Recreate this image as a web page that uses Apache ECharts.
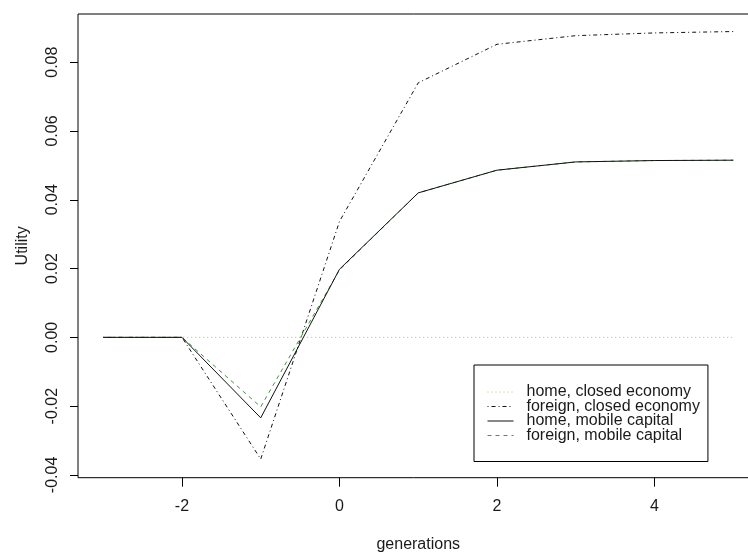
<!DOCTYPE html>
<html>
<head>
<meta charset="utf-8">
<script src="https://cdn.jsdelivr.net/npm/echarts@6/dist/echarts.min.js"></script>
<style>html,body{margin:0;padding:0;background:#fff;overflow:hidden}#c{width:748px;height:553px}</style>
</head>
<body>
<div id="c"></div>
<script>
const generations = [-3, -2, -1, 0, 1, 2, 3, 4, 5];
const homeClosed = [0, 0, 0, 0, 0, 0, 0, 0, 0];
const foreignClosed = [0, 0, -0.0354, 0.0337, 0.0740, 0.0852, 0.0877, 0.0885, 0.0889];
const homeMobile = [0, 0, -0.0234, 0.0198, 0.0420, 0.0486, 0.0510, 0.0514, 0.0515];
const foreignMobile = [0, 0, -0.0202, 0.0196, 0.0420, 0.0486, 0.0510, 0.0514, 0.0515];
const seriesNames = ['home, closed economy', 'foreign, closed economy', 'home, mobile capital', 'foreign, mobile capital'];
const xTicks = [-2, 0, 2, 4];
const yTicks = [-0.04, -0.02, 0, 0.02, 0.04, 0.06, 0.08];

const pts = ys => generations.map((g, i) => [g, ys[i]]);
const font = "'Liberation Sans', Arial, sans-serif";
const txt = '#1a1a1a';

const chart = echarts.init(document.getElementById('c'), null, { renderer: 'canvas' });
chart.setOption({
  animation: false,
  backgroundColor: '#fff',
  textStyle: { fontFamily: font },
  grid: { left: 78, top: 14, right: -10.5, bottom: 75.3, show: true, borderColor: '#000', borderWidth: 1,
          containLabel: false, outerBoundsMode: 'none' },
  xAxis: {
    type: 'value', min: -3.32, max: 5.32,
    name: 'generations', nameLocation: 'middle', nameGap: 59,
    nameTextStyle: { fontSize: 16, color: txt, fontFamily: font },
    axisLine: { show: false, onZero: false },
    splitLine: { show: false },
    axisTick: { show: true, length: 9, lineStyle: { color: '#000' }, customValues: xTicks },
    axisLabel: { customValues: xTicks, fontSize: 16, color: txt, margin: 21, fontFamily: font, formatter: v => String(v) }
  },
  yAxis: {
    type: 'value', min: -0.0408, max: 0.0940,
    name: 'Utility', nameLocation: 'middle', nameGap: 47, nameRotate: 90,
    nameTextStyle: { fontSize: 16, color: txt, fontFamily: font },
    axisLine: { show: false, onZero: false },
    splitLine: { show: false },
    axisTick: { show: true, length: 8, lineStyle: { color: '#000' }, customValues: yTicks },
    axisLabel: { customValues: yTicks, rotate: 90, fontSize: 16, color: txt, margin: 17, fontFamily: font, formatter: v => v.toFixed(2) }
  },
  legend: {
    data: seriesNames,
    orient: 'vertical', left: 474, top: 365,
    padding: [19, 8, 18, 13],
    borderColor: '#000', borderWidth: 1, borderRadius: 0,
    itemWidth: 26, itemHeight: 14, itemGap: -1.5,
    itemStyle: { opacity: 0 },
    lineStyle: { width: 1 },
    textStyle: { fontSize: 16, color: txt, fontFamily: font, padding: [0, 0, 0, 8] }
  },
  series: [
    { name: seriesNames[0], type: 'line', data: pts(homeClosed), symbol: 'none', z: 1,
      lineStyle: { color: '#bdbd5a', width: 1, type: [1, 3] }, itemStyle: { color: '#bdbd5a' } },
    { name: seriesNames[1], type: 'line', data: pts(foreignClosed), symbol: 'none', z: 2,
      lineStyle: { color: '#111', width: 1, type: [1, 3, 4, 3] }, itemStyle: { color: '#111' } },
    { name: seriesNames[2], type: 'line', data: pts(homeMobile), symbol: 'none', z: 4,
      lineStyle: { color: '#111', width: 1, type: 'solid' }, itemStyle: { color: '#111' } },
    { name: seriesNames[3], type: 'line', data: pts(foreignMobile), symbol: 'none', z: 3,
      lineStyle: { color: '#3a9a3a', width: 1, type: [4, 4] }, itemStyle: { color: '#3a9a3a' } }
  ]
});
</script>
</body>
</html>
